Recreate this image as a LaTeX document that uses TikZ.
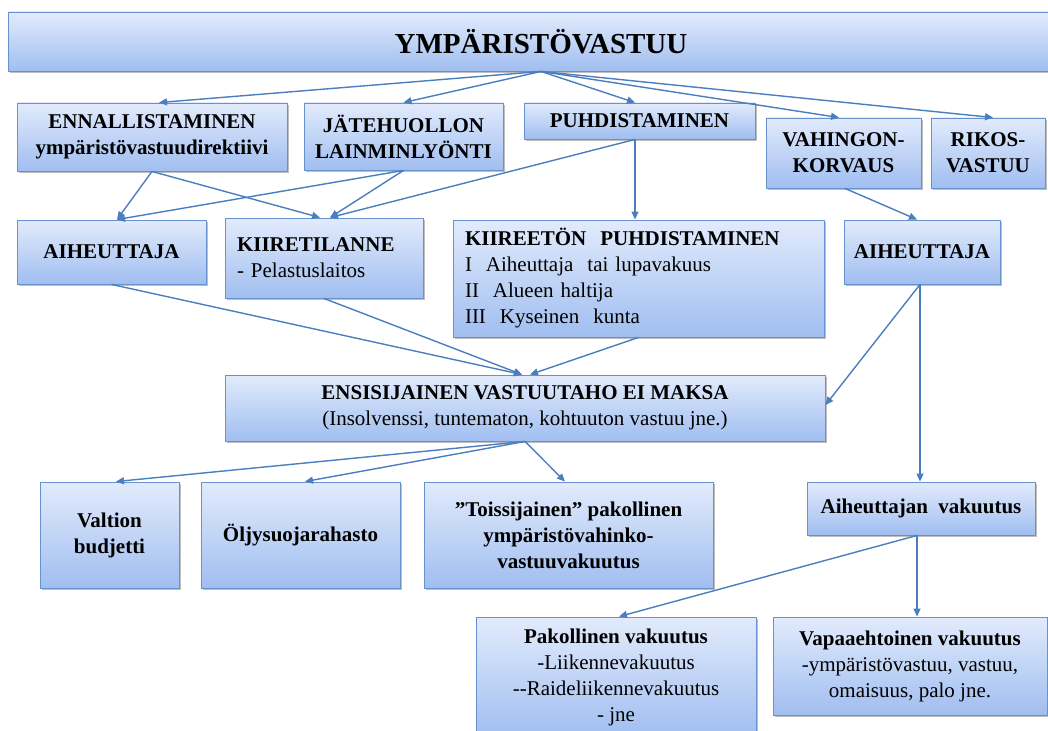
\documentclass[tikz,border=0pt]{standalone}
\usepackage{fontspec}
\setmainfont{Liberation Serif}
\usetikzlibrary{arrows.meta,shadows}
\definecolor{boxtop}{RGB}{226,235,252}
\definecolor{boxbot}{RGB}{160,190,240}
\definecolor{boxline}{RGB}{104,146,206}
\definecolor{arr}{RGB}{74,126,190}
\begin{document}
\begin{tikzpicture}[x=1pt,y=-1pt,
  box/.style={draw=boxline, line width=0.9pt, top color=boxtop, bottom color=boxbot,
    inner sep=0pt, align=center, font=\fontsize{21}{26}\selectfont,
    drop shadow={shadow xshift=1.5pt, shadow yshift=-2pt, fill=black, opacity=0.25}},
  bbox/.style={box, font=\fontsize{21}{26}\selectfont\bfseries},
  con/.style={draw=arr, line width=1.4pt, -{Triangle[length=8pt,width=7pt]}}]
\useasboundingbox (0,0) rectangle (1048,730);
\clip (0,0) rectangle (1048,730);
\fill[white] (0,0) rectangle (1048,730);
% top
\node[box, minimum width=1066pt, minimum height=59pt, font=\fontsize{29}{34}\selectfont\bfseries] (top) at (541,41.5) {YMPÄRISTÖVASTUU};
% row 2
\node[bbox, minimum width=270pt, minimum height=68pt] (enn) at (152,137) {ENNALLISTAMINEN\\ympäristövastuudirektiivi};
\node[bbox, minimum width=199pt, minimum height=67pt] (jat) at (403.5,136.5) {JÄTEHUOLLON\\LAINMINLYÖNTI};
\node[bbox, minimum width=231pt, minimum height=36pt] (puh) at (639.5,121) {PUHDISTAMINEN};
\node[bbox, minimum width=155pt, minimum height=70pt] (vah) at (843.5,153) {VAHINGON-\\KORVAUS};
\node[bbox, minimum width=114pt, minimum height=70pt] (rik) at (988,153) {RIKOS-\\VASTUU};
% row 3
\node[bbox, minimum width=189pt, minimum height=64pt] (aihL) at (111.5,252) {AIHEUTTAJA};
\node[box, minimum width=198pt, minimum height=80pt, text width=174pt, align=left] (kii) at (324,258) {\textbf{KIIRETILANNE}\\- Pelastuslaitos};
\node[box, minimum width=371pt, minimum height=117pt, text width=347pt, align=left] (kiin) at (638.5,278.5) {\textbf{KIIREETÖN\ \ PUHDISTAMINEN}\\I\ \ Aiheuttaja\ \ tai lupavakuus\\II\ \ Alueen haltija\\III\ \ Kyseinen\ \ kunta};
\node[bbox, minimum width=156pt, minimum height=64pt] (aihR) at (922,252) {AIHEUTTAJA};
% row 4
\node[box, minimum width=600pt, minimum height=66pt] (ens) at (525,408) {\textbf{ENSISIJAINEN VASTUUTAHO EI MAKSA}\\(Insolvenssi, tuntematon, kohtuuton vastuu jne.)};
% row 5
\node[bbox, minimum width=139pt, minimum height=106pt] (val) at (109.5,535) {Valtion\\budjetti};
\node[bbox, minimum width=199pt, minimum height=106pt] (olj) at (300.5,535) {Öljysuojarahasto};
\node[bbox, minimum width=289pt, minimum height=106pt] (toi) at (568.5,535) {”Toissijainen” pakollinen\\ympäristövahinko-\\vastuuvakuutus};
\node[bbox, minimum width=228pt, minimum height=53pt] (avak) at (921,508.5) {Aiheuttajan\ \ vakuutus};
% row 6
\node[box, minimum width=280pt, minimum height=120pt] (pak) at (616,677) {\textbf{Pakollinen vakuutus}\\-Liikennevakuutus\\-{}-Raideliikennevakuutus\\- jne};
\node[box, minimum width=274pt, minimum height=98pt] (vap) at (910,666) {\textbf{Vapaaehtoinen vakuutus}\\-ympäristövastuu, vastuu,\\omaisuus, palo jne.};
% connectors
\draw[con] (top.south) -- ([xshift=7pt]enn.north);
\draw[con] (top.south) -- (jat.north);
\draw[con] (top.south) -- ([xshift=-4.5pt]puh.north);
\draw[con] (top.south) -- ([xshift=-4.5pt]vah.north);
\draw[con] (top.south) -- ([xshift=5pt]rik.north);
\draw[con] (enn.south) -- ([xshift=5.5pt]aihL.north);
\draw[con] (enn.south) -- ([xshift=-4pt]kii.north);
\draw[con] (jat.south) -- ([xshift=5.5pt]aihL.north);
\draw[con] (jat.south) -- ([xshift=6pt]kii.north);
\draw[con] ([xshift=-4.5pt]puh.south) -- ([xshift=6pt]kii.north);
\draw[con] ([xshift=-4.5pt]puh.south) -- ([xshift=-4.5pt]puh.south |- kiin.north);
\draw[con] ([xshift=1.5pt]vah.south) -- ([xshift=-5pt]aihR.north);
\draw[con] (aihL.south) -- ([xshift=-3pt]ens.north);
\draw[con] (kii.south) -- ([xshift=-3pt]ens.north);
\draw[con] (kiin.south) -- ([xshift=5pt]ens.north);
\draw[con] ([xshift=-2pt]aihR.south) -- ([yshift=3pt]ens.east);
\draw[con] ([xshift=-2pt]aihR.south) -- ([xshift=-2pt]aihR.south |- avak.north);
\draw[con] (ens.south) -- ([xshift=6.5pt]val.north);
\draw[con] (ens.south) -- ([xshift=4.5pt]olj.north);
\draw[con] (ens.south) -- ([xshift=-3.5pt]toi.north);
\draw[con] ([xshift=-4pt]avak.south) -- ([xshift=3pt]pak.north);
\draw[con] ([xshift=-4pt]avak.south) -- ([xshift=-4pt]avak.south |- vap.north);
\end{tikzpicture}
\end{document}
